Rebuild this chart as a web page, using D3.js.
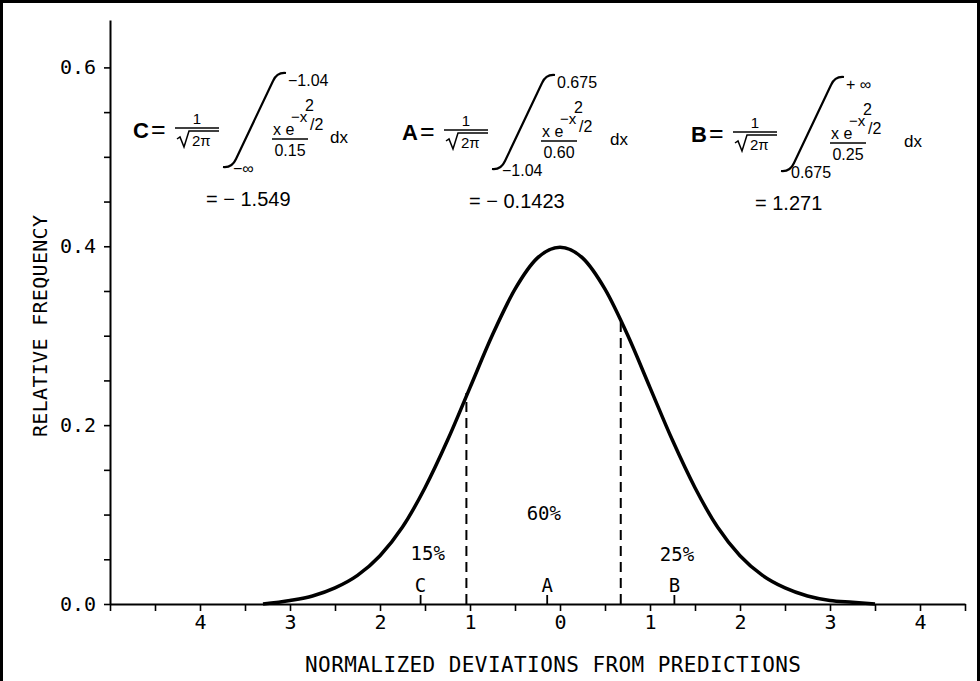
<!DOCTYPE html>
<html><head><meta charset="utf-8">
<script src="https://cdn.jsdelivr.net/npm/d3@7"></script>
<style>body{margin:0;background:#fff}svg{display:block}</style>
</head><body><svg id="c" width="980" height="681"></svg>
<script>
// ---------- data ----------
const curveX = [-3.3,-3.0,-2.75,-2.5,-2.25,-2.0,-1.75,-1.5,-1.25,-1.0,-0.75,-0.5,-0.25,0,0.25,0.5,0.75,1.0,1.25,1.5,1.75,2.0,2.25,2.5,2.75,3.0,3.25,3.5];
const curveY = [0.000,0.004,0.009,0.018,0.032,0.054,0.086,0.130,0.183,0.242,0.301,0.352,0.387,0.399,0.387,0.352,0.301,0.242,0.183,0.130,0.086,0.054,0.032,0.018,0.009,0.004,0.002,0.000];
const xTickValues = [-4,-3,-2,-1,0,1,2,3,4];
const xTickLabels = ["4","3","2","1","0","1","2","3","4"];
const yTickValues = [0,0.2,0.4,0.6];
const yTickLabels = ["0.0","0.2","0.4","0.6"];
const boundaryX = [-1.04, 0.675];
const boundaryY = [0.236, 0.320];
const markerNames = ["C","A","B"];
const markerX = [-1.549,-0.1423,1.271];
const shareLabels = ["15%","60%","25%"];
const formulaNames = ["C","A","B"];
const formulaUpper = ["\u22121.04","0.675","+ \u221e"];
const formulaLower = ["\u2212\u221e","\u22121.04","0.675"];
const formulaDenom = ["0.15","0.60","0.25"];
const formulaResult = ["=  \u2212 1.549","= \u2212 0.1423","= 1.271"];
const xTitle = "NORMALIZED DEVIATIONS FROM PREDICTIONS";
const yTitle = "RELATIVE FREQUENCY";

// ---------- layout ----------
const shareAnchor = [[-1.47,0.049],[-0.18,0.094],[1.30,0.048]];
const formulaLayout = [
  {x0:133, dy:0, dxOff:197, resOff:73},
  {x0:402, dy:2, dxOff:208, resOff:67},
  {x0:691, dy:4, dxOff:213, resOff:64}
];
const mono = "'DejaVu Sans Mono', monospace";
const sans = "'Liberation Sans', Arial, sans-serif";

const svg = d3.select("#c");
svg.append("rect").attr("x",1.5).attr("y",1.5).attr("width",977).attr("height",690)
  .attr("fill","none").attr("stroke","#000").attr("stroke-width",3);

const x = d3.scaleLinear().domain([-5,4.5]).range([110,965]);
const y = d3.scaleLinear().domain([0,0.653]).range([604,20]);

// x axis
const xAx = svg.append("g").attr("transform","translate(0,604)")
  .call(d3.axisBottom(x).tickValues(d3.range(-5,4.51,0.5)).tickSize(7).tickSizeOuter(0)
    .tickPadding(4)
    .tickFormat(v => { const k = xTickValues.indexOf(v); return k>=0 ? xTickLabels[k] : ""; }));
xAx.select(".domain").attr("stroke-width",2);
xAx.selectAll(".tick line").attr("stroke-width",1.6);
xAx.selectAll("text").attr("font-family",mono).attr("font-size",20).attr("fill","#000");

// y axis
const yAx = svg.append("g").attr("transform","translate(110,0)")
  .call(d3.axisLeft(y).tickValues(d3.range(0,0.601,0.05)).tickSize(6).tickSizeOuter(0)
    .tickPadding(8)
    .tickFormat(v => { const k = yTickValues.findIndex(t => Math.abs(t-v)<1e-6); return k>=0 ? yTickLabels[k] : ""; }));
yAx.select(".domain").attr("stroke-width",2);
yAx.selectAll(".tick line").attr("stroke-width",1.6);
yAx.selectAll("text").attr("font-family",mono).attr("font-size",20).attr("fill","#000");

// axis titles
svg.append("text").attr("x",553).attr("y",672).attr("text-anchor","middle")
  .attr("font-family",mono).attr("font-size",21).attr("textLength",496)
  .attr("lengthAdjust","spacing").text(xTitle);
svg.append("text").attr("transform","translate(47,326) rotate(-90)").attr("text-anchor","middle")
  .attr("font-family",mono).attr("font-size",20).attr("textLength",222)
  .attr("lengthAdjust","spacing").text(yTitle);

// curve
const pts = curveX.map((v,i)=>[v,curveY[i]]);
svg.append("path").datum(pts)
  .attr("d", d3.line().x(d=>x(d[0])).y(d=>y(d[1])).curve(d3.curveMonotoneX))
  .attr("fill","none").attr("stroke","#000").attr("stroke-width",3.5).attr("stroke-linejoin","round");

// dashed boundaries
boundaryX.forEach((bx,i)=>{
  svg.append("line").attr("x1",x(bx)).attr("x2",x(bx)).attr("y1",y(0)).attr("y2",y(boundaryY[i]))
    .attr("stroke","#000").attr("stroke-width",2).attr("stroke-dasharray","10,6");
});

// markers
markerX.forEach((mx,i)=>{
  svg.append("line").attr("x1",x(mx)).attr("x2",x(mx)).attr("y1",y(0)).attr("y2",y(0)-9)
    .attr("stroke","#000").attr("stroke-width",1.8);
  svg.append("text").attr("x",x(mx)).attr("y",y(0)-12).attr("text-anchor","middle")
    .attr("font-family",mono).attr("font-size",19).text(markerNames[i]);
});

// share labels
shareLabels.forEach((s,i)=>{
  svg.append("text").attr("x",x(shareAnchor[i][0])).attr("y",y(shareAnchor[i][1]))
    .attr("text-anchor","middle").attr("font-family",mono).attr("font-size",19).text(s);
});

// formulas
formulaNames.forEach((nm,i)=>{
  const L = formulaLayout[i], X = L.x0;
  const g = svg.append("g").attr("transform",`translate(0,${L.dy})`)
    .attr("font-family",sans).attr("fill","#000");
  const t = (xx,yy,s,fs,anchor,w) => g.append("text").attr("x",xx).attr("y",yy)
    .attr("font-size",fs).attr("text-anchor",anchor||"start").attr("font-weight",w||"normal").text(s);
  t(X,138,nm,22,"start","bold");
  t(X+18,138,"=",25);
  t(X+64,124,"1",15,"middle");
  g.append("line").attr("x1",X+42).attr("x2",X+86).attr("y1",128).attr("y2",128)
    .attr("stroke","#000").attr("stroke-width",1.6);
  g.append("path").attr("d",`M${X+44},139 L${X+47},137 L${X+51},147 L${X+56},131 L${X+86},131`)
    .attr("fill","none").attr("stroke","#000").attr("stroke-width",1.5);
  t(X+59,146,"2\u03c0",15);
  // integral sign
  const bx = X+90, by = 167, tx = X+153, ty = 73;
  g.append("path").attr("d",`M${bx},${by} Q${bx+9},${by+1} ${bx+13},${by-8} L${tx-13},${ty+8} Q${tx-9},${ty-1} ${tx},${ty}`)
    .attr("fill","none").attr("stroke","#000").attr("stroke-width",2.2);
  t(X+155,86,formulaUpper[i],16);
  t(X+100,174,formulaLower[i],16);
  t(X+140,135,"x e",16);
  t(X+158,122,"\u2212x",15);
  t(X+172,111,"2",16);
  t(X+177,130,"/2",16);
  g.append("line").attr("x1",X+139).attr("x2",X+175).attr("y1",139).attr("y2",139)
    .attr("stroke","#000").attr("stroke-width",1.6);
  t(X+157,156,formulaDenom[i],16,"middle");
  t(X+L.dxOff,143,"dx",17);
  t(X+L.resOff,206,formulaResult[i],20);
});
</script></body></html>
